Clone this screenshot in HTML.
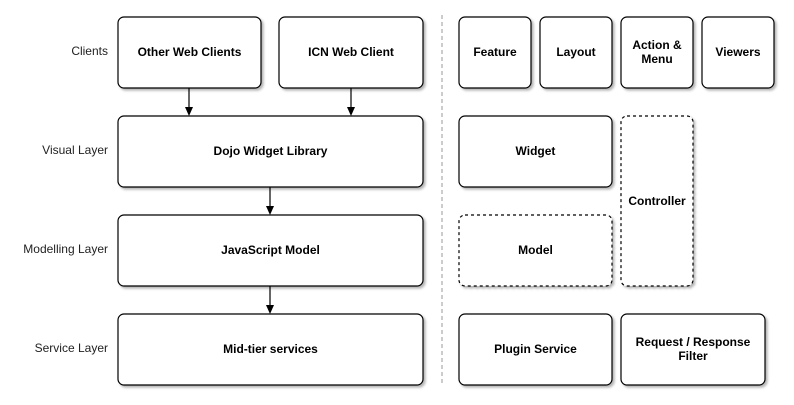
<!DOCTYPE html>
<html><head><meta charset="utf-8"><style>
html,body{margin:0;padding:0;background:#fff;}
svg{display:block;font-family:"Liberation Sans",Arial,sans-serif;}
.b{fill:#fff;stroke:#000;stroke-width:1.2;}
.d{fill:#fff;stroke:#000;stroke-width:1.2;stroke-dasharray:3 3;}
.t{font-size:12px;font-weight:bold;text-anchor:middle;fill:#000;}
.l{font-size:12px;text-anchor:end;fill:#222;}
</style></head><body>
<svg width="794" height="405" viewBox="0 0 794 405">
<defs>
<filter id="s" x="-10%" y="-10%" width="130%" height="130%"><feDropShadow dx="2" dy="2" stdDeviation="1.2" flood-color="#000" flood-opacity="0.3"/></filter>
</defs>
<g filter="url(#s)">
<rect class="b" x="118" y="17" width="143" height="71" rx="6"/>
<rect class="b" x="279" y="17" width="144" height="71" rx="6"/>
<rect class="b" x="118" y="116" width="305" height="71" rx="6"/>
<rect class="b" x="118" y="215" width="305" height="71" rx="6"/>
<rect class="b" x="118" y="314" width="305" height="71" rx="6"/>
<rect class="b" x="459" y="17" width="72" height="71" rx="6"/>
<rect class="b" x="540" y="17" width="72" height="71" rx="6"/>
<rect class="b" x="621" y="17" width="72" height="71" rx="6"/>
<rect class="b" x="702" y="17" width="72" height="71" rx="6"/>
<rect class="b" x="459" y="116" width="153" height="71" rx="6"/>
<rect class="d" x="459" y="215" width="153" height="71" rx="6"/>
<rect class="d" x="621" y="116" width="72" height="170" rx="6"/>
<rect class="b" x="459" y="314" width="153" height="71" rx="6"/>
<rect class="b" x="621" y="314" width="144" height="71" rx="6"/>
</g>
<line x1="442" y1="15" x2="442" y2="385" stroke="#999" stroke-width="1" stroke-dasharray="4 3"/>
<g stroke="#000" stroke-width="1.2">
<line x1="189" y1="88" x2="189" y2="108"/>
<line x1="351" y1="88" x2="351" y2="108"/>
<line x1="270" y1="187" x2="270" y2="207"/>
<line x1="270" y1="286" x2="270" y2="306"/>
</g>
<g fill="#000">
<polygon points="185,107 193,107 189,116"/>
<polygon points="347,107 355,107 351,116"/>
<polygon points="266,206 274,206 270,215"/>
<polygon points="266,305 274,305 270,314"/>
</g>
<text class="l" x="108" y="55">Clients</text>
<text class="l" x="108" y="154">Visual Layer</text>
<text class="l" x="108" y="253">Modelling Layer</text>
<text class="l" x="108" y="352">Service Layer</text>
<text class="t" x="189.5" y="56">Other Web Clients</text>
<text class="t" x="351" y="56">ICN Web Client</text>
<text class="t" x="270.5" y="155">Dojo Widget Library</text>
<text class="t" x="270.5" y="254">JavaScript Model</text>
<text class="t" x="270.5" y="353">Mid-tier services</text>
<text class="t" x="495" y="56">Feature</text>
<text class="t" x="576" y="56">Layout</text>
<text class="t" x="657" y="49">Action &amp;</text>
<text class="t" x="657" y="63">Menu</text>
<text class="t" x="738" y="56">Viewers</text>
<text class="t" x="535.5" y="155">Widget</text>
<text class="t" x="535.5" y="254">Model</text>
<text class="t" x="657" y="205">Controller</text>
<text class="t" x="535.5" y="353">Plugin Service</text>
<text class="t" x="693" y="346">Request / Response</text>
<text class="t" x="693" y="360">Filter</text>
</svg>
</body></html>
